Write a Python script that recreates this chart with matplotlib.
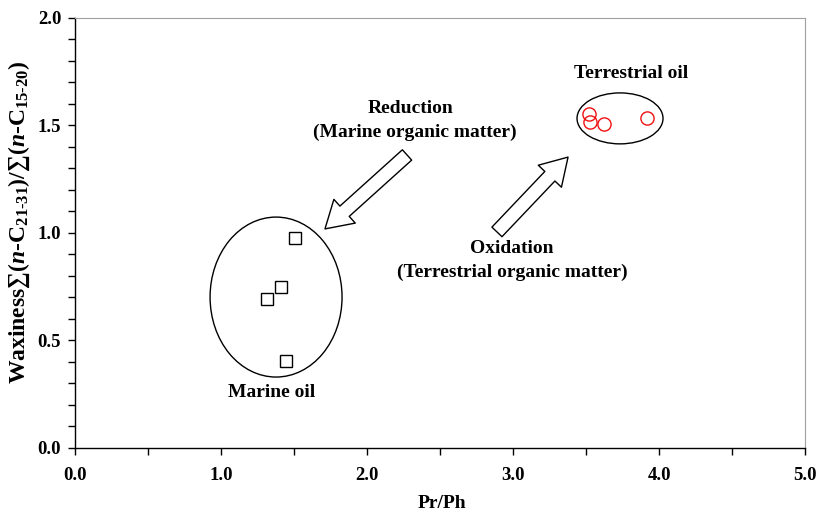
import matplotlib
matplotlib.use("Agg")
import matplotlib.pyplot as plt
from matplotlib.patches import Ellipse
from matplotlib.ticker import MultipleLocator, FormatStrFormatter

plt.rcParams['font.family'] = ['Liberation Serif', 'DejaVu Serif']
plt.rcParams['font.weight'] = 'bold'
plt.rcParams['mathtext.fontset'] = 'custom'
plt.rcParams['mathtext.rm'] = 'Liberation Serif:bold'
plt.rcParams['mathtext.it'] = 'Liberation Serif:bold:italic'
plt.rcParams['mathtext.bf'] = 'Liberation Serif:bold'

# data
marine_prph = [1.313, 1.411, 1.507, 1.445]
marine_wax = [0.692, 0.749, 0.977, 0.405]
terr_prph = [3.52, 3.53, 3.62, 3.92]
terr_wax = [1.553, 1.516, 1.507, 1.535]

fig = plt.figure(figsize=(8.2, 5.11), dpi=100)
ax = fig.add_axes([0.0915, 0.1233, 0.8902, 0.8415])
ax.set_xlim(0, 5)
ax.set_ylim(0, 2)

ax.plot(marine_prph, marine_wax, linestyle='none', marker='s', ms=9,
        mfc='none', mec='black', mew=1.0)
ax.plot(terr_prph, terr_wax, linestyle='none', marker='o', ms=9.5,
        mfc='none', mec='#f01010', mew=1.0)

ax.add_patch(Ellipse((1.377, 0.702), 0.904, 0.744, fill=False, ec='black', lw=1.0))
ax.add_patch(Ellipse((3.733, 1.533), 0.589, 0.237, fill=False, ec='black', lw=1.0))

astyle = "simple,head_length=0.95,head_width=1.15,tail_width=0.5"
ax.annotate("", xy=(1.712, 1.019), xytext=(2.274, 1.363),
            arrowprops=dict(arrowstyle=astyle, mutation_scale=20, fc='white',
                            ec='black', lw=1.0, shrinkA=0, shrinkB=0))
ax.annotate("", xy=(3.377, 1.353), xytext=(2.890, 1.005),
            arrowprops=dict(arrowstyle=astyle, mutation_scale=20, fc='white',
                            ec='black', lw=1.0, shrinkA=0, shrinkB=0))

tk = dict(fontsize=14, fontweight='bold', ha='center', va='center')
ax.text(3.808, 1.744, "Terrestrial oil", **tk)
ax.text(2.301, 1.58, "Reduction", **tk)
ax.text(2.329, 1.468, "(Marine organic matter)", **tk)
ax.text(2.993, 0.93, "Oxidation", **tk)
ax.text(2.993, 0.819, "(Terrestrial organic matter)", **tk)
ax.text(1.349, 0.26, "Marine oil", **tk)

ax.xaxis.set_major_locator(MultipleLocator(1.0))
ax.xaxis.set_minor_locator(MultipleLocator(0.5))
ax.yaxis.set_major_locator(MultipleLocator(0.5))
ax.yaxis.set_minor_locator(MultipleLocator(0.1))
ax.xaxis.set_major_formatter(FormatStrFormatter('%.1f'))
ax.yaxis.set_major_formatter(FormatStrFormatter('%.1f'))
ax.tick_params(which='both', direction='out', length=5, width=1, labelsize=13.5)
ax.tick_params(axis='x', pad=9)
ax.tick_params(axis='y', pad=5)

for s in ['top', 'right']:
    ax.spines[s].set_color('#a0a0a0')
for s in ['left', 'bottom']:
    ax.spines[s].set_linewidth(1.0)

fig.text(442 / 820, 1 - 508 / 511, "Pr/Ph", fontsize=14, fontweight='bold',
         ha='center', va='baseline')
fig.text(19 / 820, 1 - 222 / 511,
         r"Waxiness∑($\mathit{n}$-C$_{\mathrm{\text{21-31}}}$)/∑($\mathit{n}$-C$_{\mathrm{\text{15-20}}}$)",
         fontsize=17, fontweight='bold', rotation=90, ha='center', va='center')

fig.savefig("out.png", dpi=100)
